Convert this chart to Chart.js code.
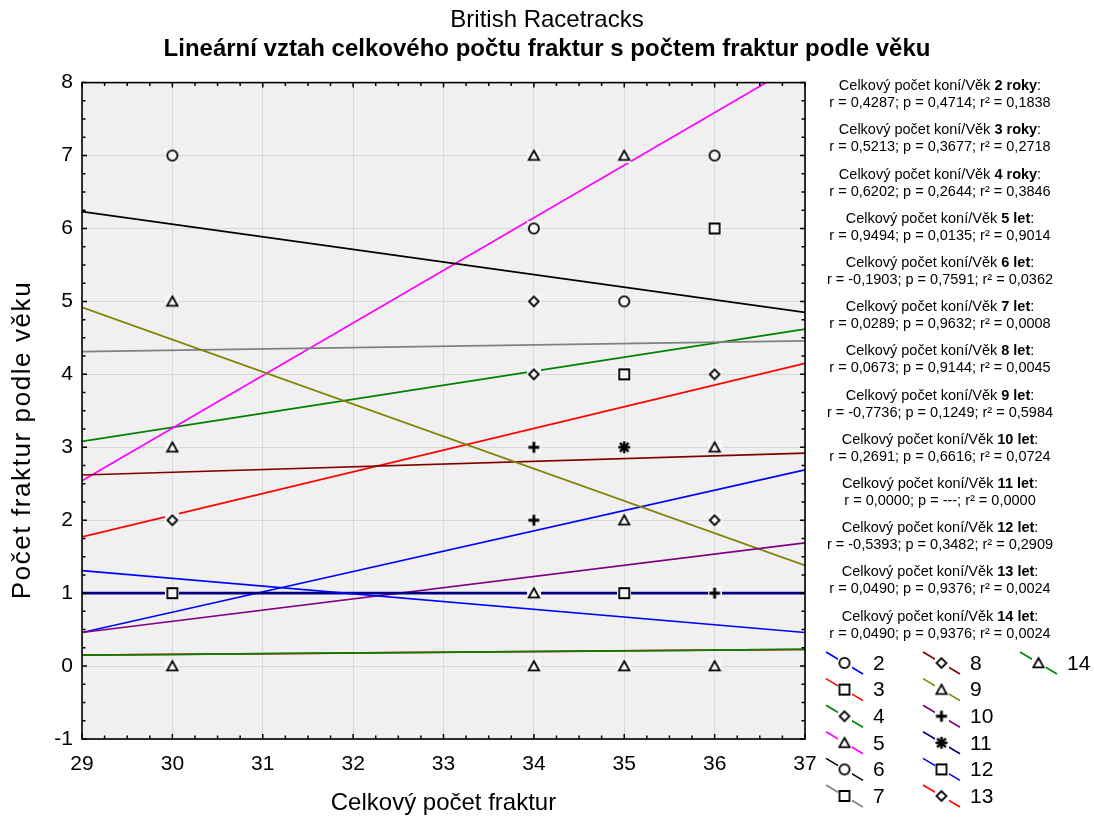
<!DOCTYPE html>
<html>
<head>
<meta charset="utf-8">
<title>British Racetracks</title>
<script src="https://cdn.jsdelivr.net/npm/chart.js@4/dist/chart.umd.min.js"></script>
<style>
  html, body { margin: 0; padding: 0; background: #ffffff; }
  #c { display: block; }
</style>
</head>
<body>
<canvas id="c" width="1094" height="818"></canvas>
<script>
// ---------------- data ----------------
const titleText = "British Racetracks";
const subtitleText = "Lineární vztah celkového počtu fraktur s počtem fraktur podle věku";
const xAxisTitle = "Celkový počet fraktur";
const yAxisTitle = "Počet fraktur podle věku";
const annotationPrefix = "Celkový počet koní/Věk ";

const xMin = 29, xMax = 37;
const yMin = -1, yMax = 8;

// total fractures per racetrack (x of every series)
const trackTotals = [30, 34, 34, 35, 36];

// fractures per age group at each racetrack (null = no marker shown)
const age2  = [1, 2, 2, 0, 4];
const age3  = [2, 2, 4, 5, 3];
const age4  = [3, 4, 5, 4, 4];
const age5  = [3, 6, 7, 7, 7];
const age6  = [7, 6, 2, 5, 7];
const age7  = [5, 2, 5, 4, 6];
const age8  = [2, 3, 5, 2, 2];
const age9  = [5, 2, 2, 2, 3];
const age10 = [0, 3, 2, 0, 1];
const age11 = [null, null, null, 3, null];
const age12 = [1, 1, 1, 1, 0];
const age13 = [0, 1, 0, 0, 0];
const age14 = [0, 1, 0, 0, 0];

// fitted line values at x = 29 and x = 37
const fitAtXMin = [0.46, 1.77, 3.08, 2.54, 6.23, 4.31, 2.62, 4.92, 0.46, 1.00, 1.31, 0.15, 0.15];
const fitAtXMax = [2.69, 4.15, 4.62, 8.31, 4.85, 4.46, 2.92, 1.38, 1.69, 1.00, 0.46, 0.23, 0.23];

const seriesNames = ["2", "3", "4", "5", "6", "7", "8", "9", "10", "11", "12", "13", "14"];
const ageLabels = ["2 roky", "3 roky", "4 roky", "5 let", "6 let", "7 let", "8 let", "9 let", "10 let", "11 let", "12 let", "13 let", "14 let"];
const rValues  = ["0,4287", "0,5213", "0,6202", "0,9494", "-0,1903", "0,0289", "0,0673", "-0,7736", "0,2691", "0,0000", "-0,5393", "0,0490", "0,0490"];
const pValues  = ["0,4714", "0,3677", "0,2644", "0,0135", "0,7591", "0,9632", "0,9144", "0,1249", "0,6616", "---", "0,3482", "0,9376", "0,9376"];
const r2Values = ["0,1838", "0,2718", "0,3846", "0,9014", "0,0362", "0,0008", "0,0045", "0,5984", "0,0724", "0,0000", "0,2909", "0,0024", "0,0024"];

const ageSeries = [age2, age3, age4, age5, age6, age7, age8, age9, age10, age11, age12, age13, age14];

// ---------------- styles ----------------
const FONT = "'Liberation Sans', Arial, Helvetica, sans-serif";
const seriesColors = ["#0000ff", "#ff0000", "#008000", "#ff00ff", "#000000", "#808080",
                      "#800000", "#808000", "#800080", "#000080", "#0000ff", "#ff0000", "#008000"];
const markerStyles = ["circle", "rect", "rectRot", "triangle", "circle", "rect",
                      "rectRot", "triangle", "cross", "star", "rect", "rectRot", "triangle"];

function makeMarker(style, boxColor) {
  const S = 14;
  const c = document.createElement('canvas');
  c.width = S; c.height = S;
  const g = c.getContext('2d');
  g.fillStyle = boxColor;
  g.fillRect(0, 0, S, S);
  const cx = S / 2, cy = S / 2;
  g.strokeStyle = '#000';
  g.lineWidth = 1.8;
  g.beginPath();
  switch (style) {
    case 'circle':
      g.arc(cx, cy, 5.1, 0, Math.PI * 2);
      break;
    case 'rect':
      g.rect(cx - 5, cy - 5, 10, 10);
      break;
    case 'rectRot':
      g.moveTo(cx, cy - 4.9); g.lineTo(cx + 4.9, cy); g.lineTo(cx, cy + 4.9); g.lineTo(cx - 4.9, cy); g.closePath();
      break;
    case 'triangle':
      g.moveTo(cx, cy - 5.0); g.lineTo(cx + 5.2, cy + 4.3); g.lineTo(cx - 5.2, cy + 4.3); g.closePath();
      break;
    case 'cross':
      g.lineWidth = 2.8;
      g.moveTo(cx, cy - 5.5); g.lineTo(cx, cy + 5.5); g.moveTo(cx - 5.5, cy); g.lineTo(cx + 5.5, cy);
      break;
    case 'star':
      g.lineWidth = 2.4;
      g.moveTo(cx, cy - 6); g.lineTo(cx, cy + 6); g.moveTo(cx - 6, cy); g.lineTo(cx + 6, cy);
      g.moveTo(cx - 4.3, cy - 4.3); g.lineTo(cx + 4.3, cy + 4.3); g.moveTo(cx - 4.3, cy + 4.3); g.lineTo(cx + 4.3, cy - 4.3);
      break;
  }
  g.stroke();
  return c;
}

const plotMarkers = markerStyles.map(s => makeMarker(s, '#f6f6f6'));
const legendMarkers = markerStyles.map(s => makeMarker(s, '#ffffff'));

// ---------------- datasets ----------------
const datasets = [];
seriesNames.forEach((name, k) => {
  datasets.push({
    label: name + ' fit',
    data: [{ x: xMin, y: fitAtXMin[k] }, { x: xMax, y: fitAtXMax[k] }],
    showLine: true,
    borderColor: seriesColors[k],
    borderWidth: k === 9 ? 2.6 : 1.7,
    pointRadius: 0,
    order: 100 - k
  });
});
seriesNames.forEach((name, k) => {
  const pts = [];
  trackTotals.forEach((x, i) => {
    const y = ageSeries[k][i];
    if (y !== null) pts.push({ x: x, y: y });
  });
  datasets.push({
    label: name,
    data: pts,
    showLine: false,
    pointStyle: plotMarkers[k],
    pointRadius: 6,
    order: 50 - k
  });
});

// ---------------- plugin: plot background, frame, inward ticks, side text, legend ----------------
const decor = {
  id: 'decor',
  beforeDraw(chart) {
    const { ctx, chartArea: a } = chart;
    ctx.save();
    ctx.fillStyle = '#ffffff';
    ctx.fillRect(0, 0, chart.width, chart.height);
    ctx.fillStyle = '#f0f0f0';
    ctx.fillRect(a.left, a.top, a.right - a.left, a.bottom - a.top);
    ctx.restore();
  },
  afterDatasetsDraw(chart) {
    const { ctx, chartArea: a, scales } = chart;
    ctx.save();
    ctx.strokeStyle = '#000';
    ctx.lineWidth = 1.5;
    for (let v = xMin; v <= xMax + 1e-9; v += 0.25) {
      const px = scales.x.getPixelForValue(v);
      const len = Math.abs(v - Math.round(v)) < 1e-6 ? 5 : 3.5;
      ctx.beginPath();
      ctx.moveTo(px, a.bottom); ctx.lineTo(px, a.bottom - len);
      ctx.moveTo(px, a.top); ctx.lineTo(px, a.top + len);
      ctx.stroke();
    }
    for (let v = yMin; v <= yMax + 1e-9; v += 0.25) {
      const py = scales.y.getPixelForValue(v);
      const len = Math.abs(v - Math.round(v)) < 1e-6 ? 5 : 3.5;
      ctx.beginPath();
      ctx.moveTo(a.left, py); ctx.lineTo(a.left + len, py);
      ctx.moveTo(a.right, py); ctx.lineTo(a.right - len, py);
      ctx.stroke();
    }
    ctx.lineWidth = 1.6;
    ctx.strokeRect(a.left, a.top, a.right - a.left, a.bottom - a.top);
    ctx.restore();
  },
  afterDraw(chart) {
    const { ctx, chartArea: a } = chart;
    ctx.save();
    ctx.fillStyle = '#000';

    // y axis title (rotated, slightly below the plot centre as in the reference)
    ctx.save();
    ctx.font = '26px ' + FONT;
    const wTitle = ctx.measureText(yAxisTitle).width;
    const spacing = Math.max(0, (317 - wTitle) / (yAxisTitle.length - 1));
    if ('letterSpacing' in ctx) ctx.letterSpacing = spacing.toFixed(2) + 'px';
    ctx.translate(23, (a.top + a.bottom) / 2 + 30);
    ctx.rotate(-Math.PI / 2);
    ctx.textAlign = 'center';
    ctx.textBaseline = 'middle';
    ctx.fillText(yAxisTitle, spacing / 2, 0);
    ctx.restore();

    ctx.textBaseline = 'middle';
    const reg = '14.5px ' + FONT;
    const bold = 'bold 14.5px ' + FONT;
    const cx = a.right + 135;
    for (let i = 0; i < ageLabels.length; i++) {
      const y1 = a.top + 3.5 + i * 44.2;
      const y2 = y1 + 17;
      ctx.font = reg;
      const w1 = ctx.measureText(annotationPrefix).width;
      const w3 = ctx.measureText(':').width;
      ctx.font = bold;
      const w2 = ctx.measureText(ageLabels[i]).width;
      let x = cx - (w1 + w2 + w3) / 2;
      ctx.textAlign = 'left';
      ctx.font = reg; ctx.fillText(annotationPrefix, x, y1); x += w1;
      ctx.font = bold; ctx.fillText(ageLabels[i], x, y1); x += w2;
      ctx.font = reg; ctx.fillText(':', x, y1);
      ctx.textAlign = 'center';
      ctx.fillText('r = ' + rValues[i] + '; p = ' + pValues[i] + '; r\u00B2 = ' + r2Values[i], cx, y2);
    }
    // legend
    const baseX = a.right + 21;
    const baseY = 663;
    ctx.textAlign = 'left';
    ctx.font = '21px ' + FONT;
    for (let k = 0; k < seriesNames.length; k++) {
      const col = Math.floor(k / 6), row = k % 6;
      const lx = baseX + col * 97;
      const ly = baseY + row * 26.6;
      ctx.strokeStyle = seriesColors[k];
      ctx.lineWidth = 1.6;
      ctx.beginPath();
      ctx.moveTo(lx, ly - 11); ctx.lineTo(lx + 37, ly + 11);
      ctx.stroke();
      const m = legendMarkers[k];
      ctx.drawImage(m, lx + 18.5 - m.width / 2, ly - m.height / 2);
      ctx.fillStyle = '#000';
      ctx.fillText(seriesNames[k], lx + 47, ly + 1);
    }
    ctx.restore();
  }
};

new Chart(document.getElementById('c'), {
  type: 'scatter',
  data: { datasets: datasets },
  options: {
    responsive: false,
    animation: false,
    events: [],
    devicePixelRatio: 1,
    layout: { padding: 0, autoPadding: false },
    plugins: {
      legend: { display: false },
      tooltip: { enabled: false },
      title: {
        display: true, text: titleText, color: '#000',
        font: { family: FONT, size: 24, weight: 'normal' },
        padding: { top: 6, bottom: 0 }
      },
      subtitle: {
        display: true, text: subtitleText, color: '#000',
        font: { family: FONT, size: 24, weight: 'bold' },
        padding: { top: 0, bottom: 19 }
      }
    },
    scales: {
      x: {
        type: 'linear', min: xMin, max: xMax,
        ticks: { stepSize: 1, color: '#000', font: { family: FONT, size: 21 }, padding: 13 },
        grid: { color: '#d8d8d8', lineWidth: 1, drawTicks: false },
        border: { display: false },
        title: { display: true, text: xAxisTitle, color: '#000', font: { family: FONT, size: 24 }, padding: { top: 0, bottom: 0 } },
        afterFit(scale) { scale.height = 79; }
      },
      y: {
        type: 'linear', min: yMin, max: yMax,
        ticks: { stepSize: 1, color: '#000', font: { family: FONT, size: 21 }, padding: 9 },
        grid: { color: '#d8d8d8', lineWidth: 1, drawTicks: false },
        border: { display: false },
        title: { display: false },
        afterFit(scale) { scale.width = 82; }
      },
      side: {
        type: 'linear', position: 'right', min: yMin, max: yMax,
        ticks: { display: false },
        grid: { display: false, drawTicks: false },
        border: { display: false },
        title: { display: false },
        afterFit(scale) { scale.width = 289; }
      }
    }
  },
  plugins: [decor]
});
</script>
</body>
</html>
